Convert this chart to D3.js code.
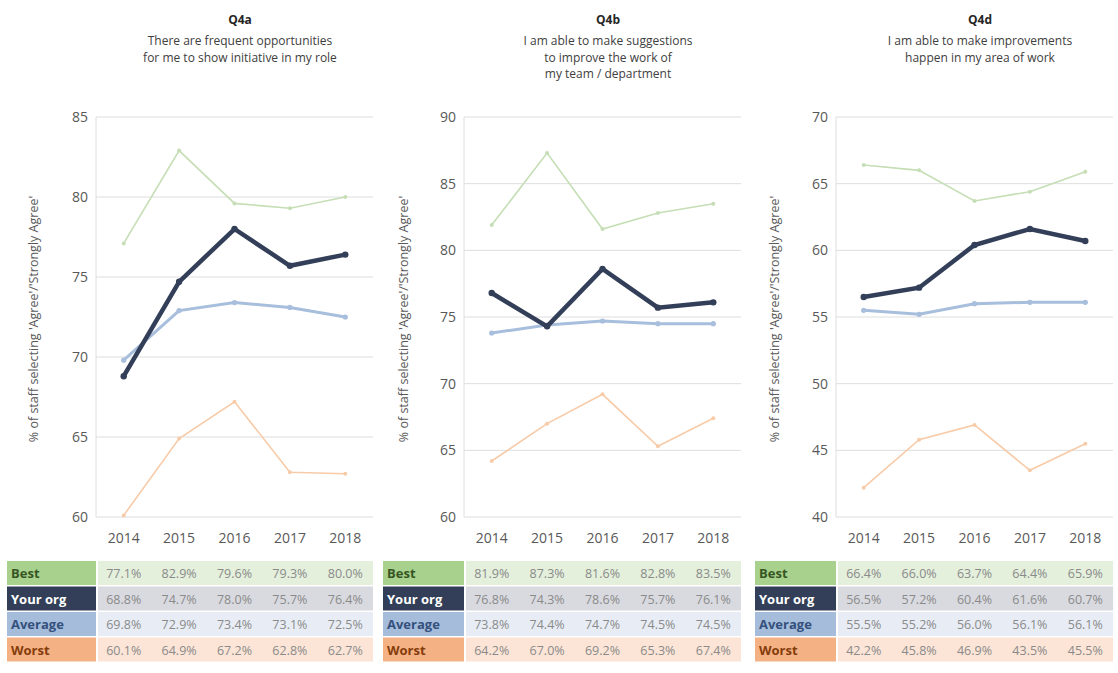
<!DOCTYPE html>
<html>
<head>
<meta charset="utf-8">
<script src="https://cdn.jsdelivr.net/npm/d3@7"></script>
<style>
    body{margin:0;background:#fff;font-family:"Open Sans","Noto Sans",sans-serif;}
    svg text{fill:#595959;}
</style>
</head>
<body>
<div id="chart"></div>
<script>
// data
const years = ['2014','2015','2016','2017','2018'];
const seriesNames = ['Best','Your org','Average','Worst'];

const q4aBest  = [77.1, 82.9, 79.6, 79.3, 80.0];
const q4aOrg   = [68.8, 74.7, 78.0, 75.7, 76.4];
const q4aAvg   = [69.8, 72.9, 73.4, 73.1, 72.5];
const q4aWorst = [60.1, 64.9, 67.2, 62.8, 62.7];

const q4bBest  = [81.9, 87.3, 81.6, 82.8, 83.5];
const q4bOrg   = [76.8, 74.3, 78.6, 75.7, 76.1];
const q4bAvg   = [73.8, 74.4, 74.7, 74.5, 74.5];
const q4bWorst = [64.2, 67.0, 69.2, 65.3, 67.4];

const q4dBest  = [66.4, 66.0, 63.7, 64.4, 65.9];
const q4dOrg   = [56.5, 57.2, 60.4, 61.6, 60.7];
const q4dAvg   = [55.5, 55.2, 56.0, 56.1, 56.1];
const q4dWorst = [42.2, 45.8, 46.9, 43.5, 45.5];

const titles = ['Q4a','Q4b','Q4d'];
const subtitles = [
    ['There are frequent opportunities','for me to show initiative in my role'],
    ['I am able to make suggestions','to improve the work of','my team / department'],
    ['I am able to make improvements','happen in my area of work']
];
const yDomains = [[60,85],[60,90],[40,70]];
const yTitle = "% of staff selecting 'Agree'/'Strongly Agree'";

// styles per series
const lineStyle = {
    'Best':     {stroke:'#c5deb5', width:1.6, r:2},
    'Your org': {stroke:'#333f58', width:4.5, r:3.2},
    'Average':  {stroke:'#a7bedc', width:3,   r:2.6},
    'Worst':    {stroke:'#f8cba8', width:1.6, r:2}
};
const tableStyle = {
    'Best':     {bg:'#a9d18e', fg:'#375623', row:'#e4f0dc'},
    'Your org': {bg:'#333f58', fg:'#ffffff', row:'#d9dae0'},
    'Average':  {bg:'#a5bcdb', fg:'#34507c', row:'#e8edf5'},
    'Worst':    {bg:'#f4b183', fg:'#843c0c', row:'#fce5d6'}
};

const panels = [
    {values:[q4aBest,q4aOrg,q4aAvg,q4aWorst], x0:96,  tableLeft:7,   titleX:240, yTitleX:38},
    {values:[q4bBest,q4bOrg,q4bAvg,q4bWorst], x0:464, tableLeft:383, titleX:608, yTitleX:408},
    {values:[q4dBest,q4dOrg,q4dAvg,q4dWorst], x0:836, tableLeft:755, titleX:980, yTitleX:779}
];

const W = 1118, H = 673;
const plotW = 277, plotTop = 117, plotBottom = 517;
const rowTop = 561, rowH = 24, rowGap = 1.5;

const svg = d3.select('#chart').append('svg')
    .attr('width', W).attr('height', H);

panels.forEach((p, i) => {
    const g = svg.append('g');

    const x = d3.scaleBand().domain(years).range([p.x0, p.x0 + plotW]);
    const y = d3.scaleLinear().domain(yDomains[i]).range([plotBottom, plotTop]);

    // title
    g.append('text')
        .attr('x', p.titleX).attr('y', 24)
        .attr('text-anchor', 'middle')
        .style('font-size', '12px').style('font-weight', 'bold')
        .style('fill', '#262626')
        .text(titles[i]);
    g.selectAll('text.sub').data(subtitles[i]).join('text')
        .classed('sub', true)
        .attr('x', p.titleX).attr('y', (d, k) => 45 + k * 16.5)
        .attr('text-anchor', 'middle')
        .style('font-size', '12px').style('fill', '#404040')
        .text(d => d);

    // gridlines
    const ticks = d3.range(yDomains[i][0], yDomains[i][1] + 1, 5);
    g.selectAll('line.grid').data(ticks).join('line')
        .classed('grid', true)
        .attr('x1', p.x0).attr('x2', p.x0 + plotW)
        .attr('y1', d => y(d)).attr('y2', d => y(d))
        .attr('stroke', '#dedede').attr('stroke-width', 1);
    g.append('line')
        .attr('x1', p.x0).attr('x2', p.x0)
        .attr('y1', plotTop).attr('y2', plotBottom)
        .attr('stroke', '#dedede');

    // y axis labels
    g.selectAll('text.ytick').data(ticks).join('text')
        .classed('ytick', true)
        .attr('x', p.x0 - 8).attr('y', d => y(d) + 5)
        .attr('text-anchor', 'end')
        .style('font-size', '14px')
        .text(d => d);

    // x axis labels
    g.selectAll('text.xtick').data(years).join('text')
        .classed('xtick', true)
        .attr('x', d => x(d) + x.bandwidth() / 2).attr('y', 543)
        .attr('text-anchor', 'middle')
        .style('font-size', '14px')
        .text(d => d);

    // y title
    g.append('text')
        .attr('transform', `translate(${p.yTitleX},${(plotTop + plotBottom) / 2 + 2}) rotate(-90)`)
        .attr('text-anchor', 'middle')
        .style('font-size', '12.5px')
        .text(yTitle);

    // lines, draw Best, Worst, Average then Your org on top
    const order = [0, 3, 2, 1];
    const lineGen = d3.line()
        .x((d, k) => x(years[k]) + x.bandwidth() / 2)
        .y(d => y(d));
    order.forEach(s => {
        const name = seriesNames[s];
        const st = lineStyle[name];
        g.append('path')
            .datum(p.values[s])
            .attr('d', lineGen)
            .attr('fill', 'none')
            .attr('stroke', st.stroke)
            .attr('stroke-width', st.width)
            .attr('stroke-linejoin', 'miter');
        g.selectAll(null).data(p.values[s]).join('circle')
            .attr('cx', (d, k) => x(years[k]) + x.bandwidth() / 2)
            .attr('cy', d => y(d))
            .attr('r', st.r)
            .attr('fill', st.stroke);
    });

    // table
    const labelW = p.x0 - p.tableLeft;
    seriesNames.forEach((name, s) => {
        const ts = tableStyle[name];
        const ry = rowTop + s * (rowH + rowGap);
        g.append('rect')
            .attr('x', p.tableLeft).attr('y', ry)
            .attr('width', labelW).attr('height', rowH)
            .attr('fill', ts.bg);
        g.append('rect')
            .attr('x', p.x0 + 2).attr('y', ry)
            .attr('width', plotW - 2).attr('height', rowH)
            .attr('fill', ts.row);
        g.append('text')
            .attr('x', p.tableLeft + 4).attr('y', ry + 17)
            .style('font-size', '13px').style('font-weight', 'bold')
            .style('fill', ts.fg)
            .text(name);
        g.selectAll(null).data(p.values[s]).join('text')
            .attr('x', (d, k) => x(years[k]) + x.bandwidth() / 2)
            .attr('y', ry + 17)
            .attr('text-anchor', 'middle')
            .style('font-size', '12.5px')
            .style('fill', '#8a8a8a')
            .text(d => d.toFixed(1) + '%');
    });
});
</script>
</body>
</html>
